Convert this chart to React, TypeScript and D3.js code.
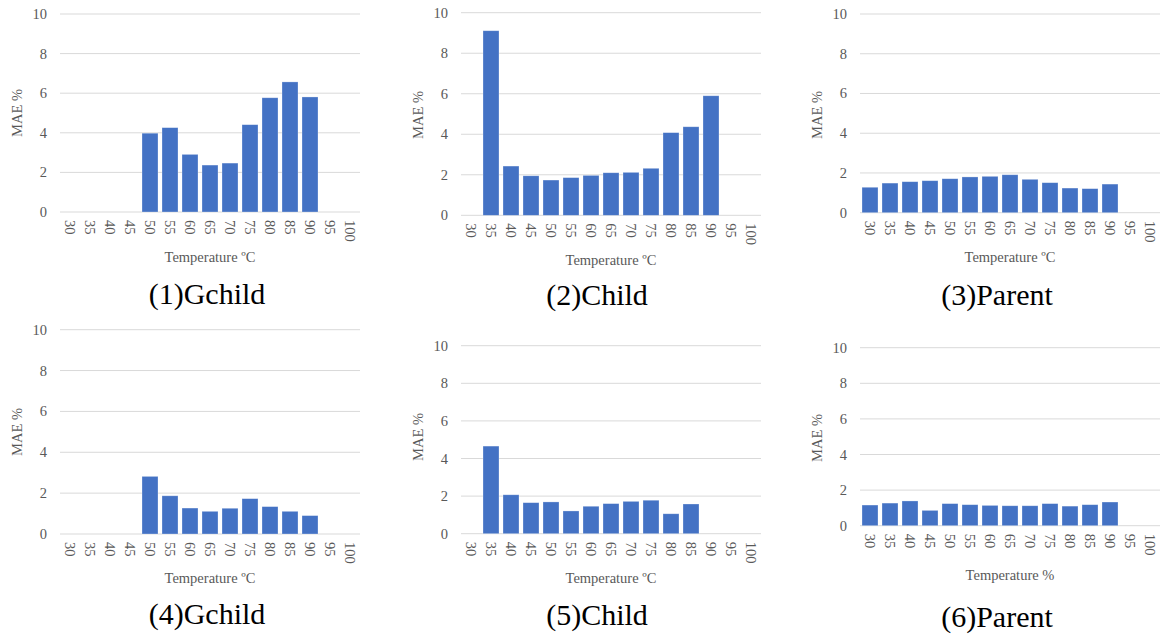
import React from "react";
import * as d3 from "d3";

const categories = ["30", "35", "40", "45", "50", "55", "60", "65", "70", "75", "80", "85", "90", "95", "100"];
const yTicks = [0, 2, 4, 6, 8, 10];

const gchildC = [null, null, null, null, 3.98, 4.26, 2.91, 2.37, 2.47, 4.41, 5.77, 6.57, 5.81, null, null];
const childC = [null, 9.11, 2.43, 1.95, 1.74, 1.86, 1.97, 2.1, 2.12, 2.32, 4.08, 4.37, 5.9, null, null];
const parentC = [1.28, 1.49, 1.56, 1.61, 1.71, 1.8, 1.83, 1.91, 1.68, 1.51, 1.24, 1.21, 1.44, null, null];
const gchildP = [null, null, null, null, 2.82, 1.87, 1.27, 1.11, 1.26, 1.73, 1.34, 1.11, 0.9, null, null];
const childP = [null, 4.66, 2.07, 1.65, 1.69, 1.21, 1.46, 1.6, 1.72, 1.78, 1.06, 1.58, null, null, null];
const parentP = [1.16, 1.27, 1.39, 0.86, 1.24, 1.18, 1.14, 1.12, 1.12, 1.24, 1.1, 1.18, 1.33, null, null];

const captions = ["(1)Gchild", "(2)Child", "(3)Parent", "(4)Gchild", "(5)Child", "(6)Parent"];
const xTitles = ["Temperature ºC", "Temperature ºC", "Temperature ºC", "Temperature ºC", "Temperature ºC", "Temperature %"];
const yTitle = "MAE %";

const seriesList = [gchildC, childC, parentC, gchildP, childP, parentP];

// layout per panel
const layouts = [
  { left: 60, right: 360, top: 14, bottom: 212, yTitleX: 17, yTitleY: 113, xTitleY: 257, capX: 207, capY: 304 },
  { left: 461, right: 761, top: 12.7, bottom: 215.3, yTitleX: 418, yTitleY: 115, xTitleY: 260, capX: 597, capY: 305 },
  { left: 860, right: 1160, top: 14, bottom: 212.7, yTitleX: 817, yTitleY: 115, xTitleY: 257, capX: 997, capY: 305 },
  { left: 60, right: 360, top: 329.7, bottom: 534, yTitleX: 17, yTitleY: 432, xTitleY: 578, capX: 207, capY: 624 },
  { left: 461, right: 761, top: 345.7, bottom: 533.7, yTitleX: 418, yTitleY: 437, xTitleY: 578, capX: 597, capY: 625 },
  { left: 860, right: 1160, top: 347.7, bottom: 525.7, yTitleX: 817, yTitleY: 438, xTitleY: 575, capX: 997, capY: 627 },
];

const FONT = "Liberation Serif, Times New Roman, serif";
const GREY = "#595959";
const BAR = "#4472C4";
const small = { fontFamily: FONT, fontSize: "14.5px", fill: GREY };

function Panel({ values, lay, caption, xTitle }) {
  const x = d3.scaleBand().domain(categories).range([lay.left, lay.right]).paddingInner(0.2).paddingOuter(0.1);
  const y = d3.scaleLinear().domain([0, 10]).range([lay.bottom, lay.top]);
  const cx = (lay.left + lay.right) / 2;
  return (
    <g>
      {yTicks.map((t) => (
        <g key={t}>
          <line x1={lay.left} x2={lay.right} y1={y(t)} y2={y(t)} stroke="#d9d9d9" strokeWidth={1} />
          <text x={lay.left - 13} y={y(t)} textAnchor="end" dominantBaseline="central" style={small}>
            {t}
          </text>
        </g>
      ))}
      {categories.map((c, i) =>
        values[i] == null ? null : (
          <rect key={c} x={x(c)} width={x.bandwidth()} y={y(values[i])} height={y(0) - y(values[i])} fill={BAR} stroke="#ffffff" strokeOpacity={0.4} strokeWidth={0.7} />
        )
      )}
      {categories.map((c) => {
        const px = x(c) + x.bandwidth() / 2;
        const py = lay.bottom + 8;
        return (
          <text key={c} transform={`translate(${px},${py}) rotate(90)`} textAnchor="start" dominantBaseline="central" style={small}>
            {c}
          </text>
        );
      })}
      <text transform={`translate(${lay.yTitleX},${lay.yTitleY}) rotate(-90)`} textAnchor="middle" dominantBaseline="central" style={small}>
        {yTitle}
      </text>
      <text x={cx} y={lay.xTitleY} textAnchor="middle" dominantBaseline="central" style={small}>
        {xTitle}
      </text>
      <text x={lay.capX} y={lay.capY} textAnchor="middle" style={{ fontFamily: FONT, fontSize: "30px", fill: "#000" }}>
        {caption}
      </text>
    </g>
  );
}

export default function App() {
  return (
    <svg width={1160} height={635} style={{ position: "absolute", left: 0, top: 0, background: "#fff" }}>
      <rect width={1160} height={635} fill="#fff" />
      {seriesList.map((vals, i) => (
        <Panel key={i} values={vals} lay={layouts[i]} caption={captions[i]} xTitle={xTitles[i]} />
      ))}
    </svg>
  );
}
